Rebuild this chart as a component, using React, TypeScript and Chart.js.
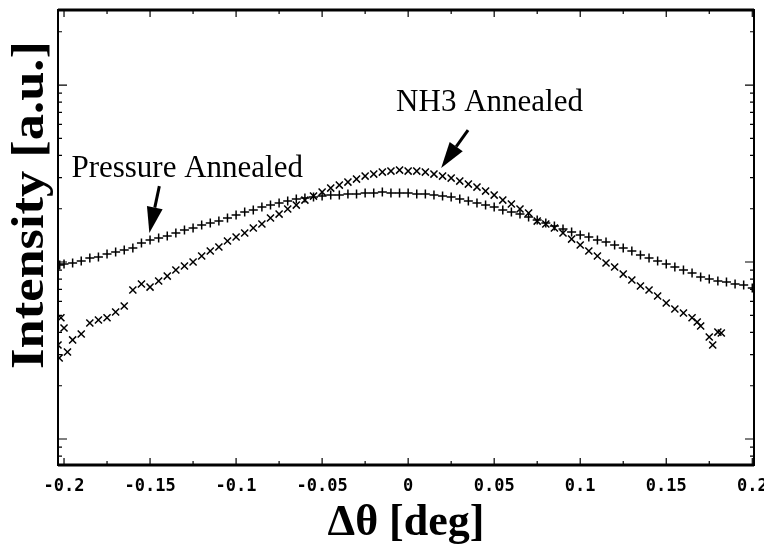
import { useEffect, useRef } from "react";
import { Chart, registerables } from "chart.js";
Chart.register(...registerables);

const X_TICKS = [-0.2, -0.15, -0.1, -0.05, 0, 0.05, 0.1, 0.15, 0.2];
const X_MINOR = [-0.175, -0.125, -0.075, -0.025, 0.025, 0.075, 0.125, 0.175];
const X_TITLE = "Δθ [deg]";
const Y_TITLE = "Intensity [a.u.]";

const PRESSURE_X = [-0.2025, -0.2, -0.195, -0.19, -0.185, -0.18, -0.175, -0.17, -0.165, -0.16,
  -0.155, -0.15, -0.145, -0.14, -0.135, -0.13, -0.125, -0.12, -0.115, -0.11,
  -0.105, -0.1, -0.095, -0.09, -0.085, -0.08, -0.075, -0.07, -0.065, -0.06,
  -0.055, -0.05, -0.045, -0.04, -0.035, -0.03, -0.025, -0.02, -0.015, -0.01,
  -0.005, 0, 0.005, 0.01, 0.015, 0.02, 0.025, 0.03, 0.035, 0.04,
  0.045, 0.05, 0.055, 0.06, 0.065, 0.07, 0.075, 0.08, 0.085, 0.09,
  0.095, 0.1, 0.105, 0.11, 0.115, 0.12, 0.125, 0.13, 0.135, 0.14,
  0.145, 0.15, 0.155, 0.16, 0.165, 0.17, 0.175, 0.18, 0.185, 0.19,
  0.195, 0.2];
const PRESSURE_Y = [96.2, 97.4, 98.7, 101.3, 105.3, 106.7, 111.0, 113.9, 116.9, 120.0,
  127.9, 133.1, 136.6, 140.2, 145.8, 151.6, 155.6, 161.8, 166.1, 170.4,
  177.2, 184.2, 191.5, 196.6, 204.4, 209.8, 215.3, 221.0, 226.8, 229.8,
  232.8, 235.8, 238.9, 238.9, 242.0, 242.0, 245.2, 245.2, 248.4, 245.2,
  245.2, 245.2, 242.0, 242.0, 238.9, 235.8, 232.8, 226.8, 221.0, 215.3,
  209.8, 204.4, 196.6, 191.5, 186.6, 179.5, 172.6, 166.1, 159.7, 153.6,
  147.7, 142.0, 138.4, 133.1, 129.6, 124.7, 120.0, 115.4, 109.5, 105.3,
  101.3, 97.4, 93.7, 90.1, 86.7, 82.3, 80.2, 78.1, 77.1, 75.1,
  74.1, 71.3];

const NH3_X = [-0.2035, -0.2028, -0.2018, -0.198,
  -0.2, -0.195, -0.19, -0.185, -0.18, -0.175, -0.17, -0.165, -0.16, -0.155,
  -0.15, -0.145, -0.14, -0.135, -0.13, -0.125, -0.12, -0.115, -0.11, -0.105,
  -0.1, -0.095, -0.09, -0.085, -0.08, -0.075, -0.07, -0.065, -0.06, -0.055,
  -0.05, -0.045, -0.04, -0.035, -0.03, -0.025, -0.02, -0.015, -0.01, -0.005,
  0, 0.005, 0.01, 0.015, 0.02, 0.025, 0.03, 0.035, 0.04, 0.045,
  0.05, 0.055, 0.06, 0.065, 0.07, 0.075, 0.08, 0.085, 0.09, 0.095,
  0.1, 0.105, 0.11, 0.115, 0.12, 0.125, 0.13, 0.135, 0.14, 0.145,
  0.15, 0.155, 0.16, 0.165, 0.17, 0.175, 0.18,
  0.168, 0.177, 0.182];
const NH3_Y = [34.0, 28.7, 48.4, 31.0,
  42.4, 36.3, 39.2, 45.2, 47.0, 48.4, 52.2, 56.4, 69.5, 75.1,
  72.2, 78.1, 83.3, 90.1, 94.9, 100, 108.1, 115.4, 121.5, 131.4,
  138.4, 145.8, 155.6, 163.9, 177.2, 186.6, 199.2, 209.8, 223.9, 235.8,
  248.4, 261.7, 272.1, 283.0, 294.2, 305.9, 314.0, 322.3, 326.5, 330.7,
  326.5, 326.5, 322.3, 314.0, 305.9, 298.1, 286.7, 275.7, 265.1, 251.7,
  238.9, 223.9, 212.6, 199.2, 189.1, 170.4, 163.9, 155.6, 145.8, 134.8,
  124.7, 115.4, 108.1, 98.7, 93.7, 85.5, 79.1, 73.2, 69.5, 64.3,
  58.7, 54.3, 51.5, 48.4, 43.5, 37.7, 40.2,
  45.8, 34.0, 39.7];

const NOTES = [
  { text: "Pressure Annealed", x: -0.1957, y: 302 },
  { text: "NH3 Annealed", x: -0.007, y: 712 },
];
const ARROWS = [
  { x0: -0.1446, y0: 268.6, x1: -0.1504, y1: 145.8 },
  { x0: 0.0348, y0: 557, x1: 0.0192, y1: 340 },
];

const decorPlugin = {
  id: "decor",
  afterDraw(chart: any) {
    const { ctx, chartArea: a, scales } = chart;
    const xs = scales.x;
    const ys = scales.y;
    ctx.save();
    ctx.strokeStyle = "#000";
    ctx.fillStyle = "#000";
    ctx.lineWidth = 1.2;
    ctx.beginPath();
    const xt = (v: number, len: number) => {
      const px = xs.getPixelForValue(v);
      ctx.moveTo(px, a.bottom);
      ctx.lineTo(px, a.bottom - len);
      ctx.moveTo(px, a.top);
      ctx.lineTo(px, a.top + len);
    };
    X_TICKS.forEach((v) => xt(v, 7));
    X_MINOR.forEach((v) => xt(v, 4));
    (ys.ticks || []).forEach((t: any) => {
      const v = t.value;
      const e = Math.floor(Math.log10(v) + 1e-9);
      const s = v / Math.pow(10, e);
      if (Math.abs(s - Math.round(s)) > 1e-6) return;
      const len = Math.round(s) === 1 ? 9 : 4;
      const py = ys.getPixelForValue(v);
      if (py < a.top || py > a.bottom) return;
      ctx.moveTo(a.left, py);
      ctx.lineTo(a.left + len, py);
      ctx.moveTo(a.right, py);
      ctx.lineTo(a.right - len, py);
    });
    ctx.stroke();
    ctx.lineWidth = 2;
    ctx.strokeRect(a.left, a.top, a.right - a.left, a.bottom - a.top);
    ctx.lineWidth = 3;
    ctx.beginPath();
    ctx.moveTo(a.left, a.top);
    ctx.lineTo(a.right, a.top);
    ctx.moveTo(a.left, a.bottom);
    ctx.lineTo(a.right, a.bottom);
    ctx.stroke();
    ctx.save();
    ctx.translate(31, 205);
    ctx.rotate(-Math.PI / 2);
    ctx.scale(1.14, 1);
    ctx.font = "bold 46px 'Liberation Serif'";
    ctx.textAlign = "center";
    ctx.textBaseline = "middle";
    ctx.fillText(Y_TITLE, 0, 0);
    ctx.restore();
    ctx.font = "31px 'Liberation Serif'";
    ctx.textAlign = "left";
    ctx.textBaseline = "alphabetic";
    NOTES.forEach((n) => {
      ctx.fillText(n.text, xs.getPixelForValue(n.x), ys.getPixelForValue(n.y));
    });
    ARROWS.forEach((r) => {
      const x0 = xs.getPixelForValue(r.x0);
      const y0 = ys.getPixelForValue(r.y0);
      const x1 = xs.getPixelForValue(r.x1);
      const y1 = ys.getPixelForValue(r.y1);
      const ang = Math.atan2(y1 - y0, x1 - x0);
      const hl = 26;
      const hw = 8;
      const bx = x1 - hl * Math.cos(ang);
      const by = y1 - hl * Math.sin(ang);
      ctx.lineWidth = 3;
      ctx.beginPath();
      ctx.moveTo(x0, y0);
      ctx.lineTo(bx, by);
      ctx.stroke();
      ctx.beginPath();
      ctx.moveTo(x1, y1);
      ctx.lineTo(bx + hw * Math.sin(ang), by - hw * Math.cos(ang));
      ctx.lineTo(bx - hw * Math.sin(ang), by + hw * Math.cos(ang));
      ctx.closePath();
      ctx.fill();
    });
    ctx.restore();
  },
};

export default function App() {
  const ref = useRef<HTMLCanvasElement | null>(null);
  useEffect(() => {
    if (!ref.current) return;
    const chart = new Chart(ref.current, {
      type: "scatter",
      data: {
        datasets: [
          {
            label: "Pressure Annealed",
            data: PRESSURE_X.map((x, i) => ({ x, y: PRESSURE_Y[i] })),
            pointStyle: "cross",
            pointRadius: 4.5,
            borderWidth: 1.5,
            borderColor: "#000",
            backgroundColor: "#000",
            showLine: false,
          },
          {
            label: "NH3 Annealed",
            data: NH3_X.map((x, i) => ({ x, y: NH3_Y[i] })),
            pointStyle: "crossRot",
            pointRadius: 5,
            borderWidth: 1.5,
            borderColor: "#000",
            backgroundColor: "#000",
            showLine: false,
          },
        ],
      },
      options: {
        animation: false,
        responsive: true,
        maintainAspectRatio: false,
        layout: { padding: { left: 58, right: 10, top: 10, bottom: 0 } },
        plugins: { legend: { display: false }, tooltip: { enabled: false } },
        scales: {
          x: {
            type: "linear",
            min: -0.2035,
            max: 0.201,
            afterBuildTicks: (scale: any) => {
              scale.ticks = X_TICKS.map((v) => ({ value: v }));
            },
            afterFit: (scale: any) => {
              scale.height = 85;
              scale.paddingLeft = 0;
              scale.paddingRight = 0;
            },
            ticks: {
              callback: (v: any) => String(v),
              color: "#000",
              font: { family: "'DejaVu Sans Mono'", weight: "bold", size: 17 },
              padding: 11,
              maxRotation: 0,
              autoSkip: false,
            },
            grid: { display: false, drawTicks: false },
            border: { display: false },
            title: {
              display: true,
              text: X_TITLE,
              color: "#000",
              font: { family: "'Liberation Serif'", weight: "bold", size: 44 },
              padding: { top: 0, bottom: 0 },
            },
          },
          y: {
            type: "logarithmic",
            display: false,
            min: 7.13,
            max: 2655,
          },
        },
      },
      plugins: [decorPlugin],
    });
    return () => chart.destroy();
  }, []);
  return (
    <div style={{ position: "fixed", left: 0, top: 0, width: 764, height: 550, background: "#fff" }}>
      <canvas ref={ref} />
    </div>
  );
}
